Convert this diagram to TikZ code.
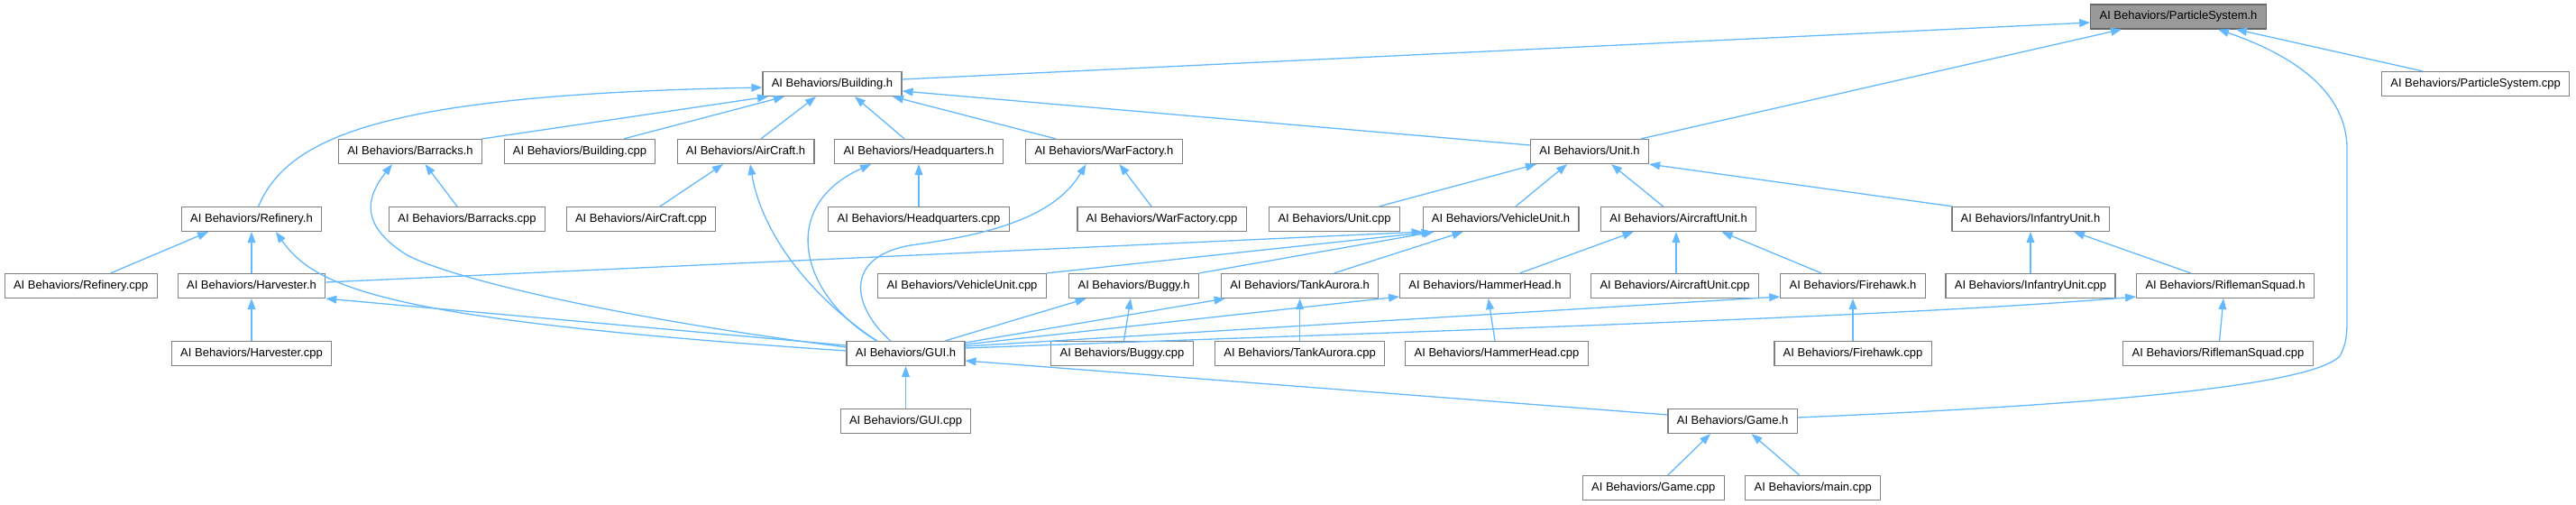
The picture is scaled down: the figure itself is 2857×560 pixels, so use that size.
\documentclass[tikz,border=0pt]{standalone}
\usepackage{fontspec}
\setmainfont{Liberation Sans}
\usetikzlibrary{arrows.meta,calc}
\definecolor{edgeblue}{HTML}{63B8FF}
\definecolor{boxgray}{HTML}{808080}
\definecolor{rootfill}{HTML}{999999}
\definecolor{rootdraw}{HTML}{666666}
\begin{document}
\begin{tikzpicture}[x=0.5pt,y=-0.5pt,
  box/.style={draw=boxgray, fill=white, line width=0.6pt, font=\fontsize{6.5}{7.8}\selectfont,
    minimum height=13.5pt, inner xsep=4.9pt, inner ysep=0pt, text height=4.7pt, text depth=1.4pt},
  root/.style={box, fill=rootfill, draw=rootdraw},
  dep/.style={draw=edgeblue, line width=0.65pt, -{Triangle[length=6pt,width=4.4pt]}}]
\useasboundingbox (0,0) rectangle (2857,560);
% row 0
\node[root] (ps) at (2416,18.5) {AI Behaviors/ParticleSystem.h};
% row 1
\node[box] (bld) at (923,93) {AI Behaviors/Building.h};
\node[box] (pscpp) at (2745.6,93) {AI Behaviors/ParticleSystem.cpp};
% row 2
\node[box] (barr) at (455,168) {AI Behaviors/Barracks.h};
\node[box] (bldcpp) at (643,168) {AI Behaviors/Building.cpp};
\node[box] (air) at (827,168) {AI Behaviors/AirCraft.h};
\node[box] (hq) at (1019,168) {AI Behaviors/Headquarters.h};
\node[box] (wf) at (1224.5,168) {AI Behaviors/WarFactory.h};
\node[box] (unit) at (1763,168) {AI Behaviors/Unit.h};
% row 3
\node[box] (ref) at (279,243) {AI Behaviors/Refinery.h};
\node[box] (barrcpp) at (518,243) {AI Behaviors/Barracks.cpp};
\node[box] (aircpp) at (711,243) {AI Behaviors/AirCraft.cpp};
\node[box] (hqcpp) at (1019,243) {AI Behaviors/Headquarters.cpp};
\node[box] (wfcpp) at (1288.5,243) {AI Behaviors/WarFactory.cpp};
\node[box] (unitcpp) at (1480,243) {AI Behaviors/Unit.cpp};
\node[box] (veh) at (1664.5,243) {AI Behaviors/VehicleUnit.h};
\node[box] (acu) at (1861.6,243) {AI Behaviors/AircraftUnit.h};
\node[box] (inf) at (2252,243) {AI Behaviors/InfantryUnit.h};
% row 4
\node[box] (refcpp) at (89.7,317) {AI Behaviors/Refinery.cpp};
\node[box] (harv) at (279,317) {AI Behaviors/Harvester.h};
\node[box] (vehcpp) at (1067,317) {AI Behaviors/VehicleUnit.cpp};
\node[box] (buggy) at (1257.6,317) {AI Behaviors/Buggy.h};
\node[box] (tank) at (1441.6,317) {AI Behaviors/TankAurora.h};
\node[box] (hammer) at (1647,317) {AI Behaviors/HammerHead.h};
\node[box] (acucpp) at (1857.6,317) {AI Behaviors/AircraftUnit.cpp};
\node[box] (fire) at (2055,317) {AI Behaviors/Firehawk.h};
\node[box] (infcpp) at (2252,317) {AI Behaviors/InfantryUnit.cpp};
\node[box] (rifle) at (2468,317) {AI Behaviors/RiflemanSquad.h};
% row 5
\node[box] (harvcpp) at (279,392) {AI Behaviors/Harvester.cpp};
\node[box] (gui) at (1004.5,392) {AI Behaviors/GUI.h};
\node[box] (buggycpp) at (1244.5,392) {AI Behaviors/Buggy.cpp};
\node[box] (tankcpp) at (1441.6,392) {AI Behaviors/TankAurora.cpp};
\node[box] (hammercpp) at (1660,392) {AI Behaviors/HammerHead.cpp};
\node[box] (firecpp) at (2055,392) {AI Behaviors/Firehawk.cpp};
\node[box] (riflecpp) at (2460,392) {AI Behaviors/RiflemanSquad.cpp};
% row 6
\node[box] (guicpp) at (1004.5,467) {AI Behaviors/GUI.cpp};
\node[box] (game) at (1921.6,467) {AI Behaviors/Game.h};
% row 7
\node[box] (gamecpp) at (1833.8,541) {AI Behaviors/Game.cpp};
\node[box] (main) at (2010.7,541) {AI Behaviors/main.cpp};

% edges into ParticleSystem.h
\draw[dep] ($(bld.east)+(0,-5)$) -- ($(ps.west)+(0,6.5)$);
\draw[dep] ($(unit.north)+(57,0)$) -- ($(ps.south)+(-63,0)$);
\draw[dep] ($(game.east)+(0,-4)$) .. controls (2300,450) and (2560,430) .. (2595,395)
  .. controls (2603,380) and (2603,370) .. (2603,350) -- (2603,165)
  .. controls (2603,100) and (2540,60) .. ($(ps.south)+(44,0)$);
\draw[dep] ($(pscpp.north)+(-58.6,0)$) -- ($(ps.south)+(64,0)$);
% edges into Building.h
\draw[dep] ($(ref.north)+(7.6,0)$) .. controls (320,150) and (430,105) .. ($(bld.west)+(0,4)$);
\draw[dep] (barr.north east) -- ($(bld.south)+(-71,0)$);
\draw[dep] ($(bldcpp.north)+(49,0)$) -- ($(bld.south)+(-53,0)$);
\draw[dep] ($(air.north)+(17,0)$) -- ($(bld.south)+(-18,0)$);
\draw[dep] ($(hq.north)+(-16,0)$) -- ($(bld.south)+(25,0)$);
\draw[dep] ($(wf.north)+(-53.5,0)$) -- ($(bld.south)+(67,0)$);
\draw[dep] ($(unit.west)+(0,-7)$) -- ($(bld.east)+(0,8)$);
% Barracks.h
\draw[dep] ($(barrcpp.north)+(-11,0)$) -- ($(barr.south)+(16.5,0)$);
\draw[dep] ($(gui.west)+(0,-7)$) .. controls (700,355) and (500,310) .. (450,282)
  .. controls (400,250) and (405,220) .. ($(barr.south)+(-20,0)$);
% AirCraft.h
\draw[dep] ($(aircpp.north)+(21,0)$) -- ($(air.south)+(-25,0)$);
\draw[dep] ($(gui.north)+(-32,0)$) .. controls (900,330) and (845,260) .. ($(air.south)+(5,0)$);
% Headquarters.h
\draw[dep] (hqcpp.north) -- (hq.south);
\draw[dep] ($(gui.north)+(-32,0)$) .. controls (890,330) and (860,230) .. ($(hq.south)+(-53,0)$);
% WarFactory.h
\draw[dep] ($(wfcpp.north)+(-11.5,0)$) -- ($(wf.south)+(17,0)$);
\draw[dep] ($(gui.north)+(-17,0)$) .. controls (945,340) and (935,285) .. (1010,272)
  .. controls (1100,260) and (1170,240) .. ($(wf.south)+(-20,0)$);
% Unit.h
\draw[dep] ($(unitcpp.north)+(49.5,0)$) -- ($(unit.south)+(-59,0)$);
\draw[dep] ($(veh.north)+(16.5,0)$) -- ($(unit.south)+(-25,0)$);
\draw[dep] ($(acu.north)+(-17,0)$) -- ($(unit.south)+(24,0)$);
\draw[dep] ($(inf.north)+(-86.5,0)$) -- (unit.south east);
% VehicleUnit.h
\draw[dep] ($(harv.east)+(0,-4)$) -- (veh.south west);
\draw[dep] (vehcpp.north east) -- ($(veh.south)+(-76,0)$);
\draw[dep] (buggy.north east) -- ($(veh.south)+(-74,0)$);
\draw[dep] ($(tank.north)+(38,0)$) -- ($(veh.south)+(-42,0)$);
% AircraftUnit.h
\draw[dep] ($(hammer.north)+(38.6,0)$) -- ($(acu.south)+(-50,0)$);
\draw[dep] ($(acucpp.north)+(1.4,0)$) -- ($(acu.south)+(-2.6,0)$);
\draw[dep] ($(fire.north)+(-35,0)$) -- ($(acu.south)+(48,0)$);
% InfantryUnit.h
\draw[dep] (infcpp.north) -- (inf.south);
\draw[dep] ($(rifle.north)+(-38.3,0)$) -- ($(inf.south)+(48,0)$);
% Refinery.h
\draw[dep] ($(refcpp.north)+(33,0)$) -- ($(ref.south)+(-48,0)$);
\draw[dep] (harv.north) -- (ref.south);
\draw[dep] ($(gui.west)+(0,-3)$) .. controls (430,355) and (350,320) .. ($(ref.south)+(27,0)$);
% Harvester.h
\draw[dep] (harvcpp.north) -- (harv.south);
\draw[dep] ($(gui.west)+(0,-9)$) -- (harv.south east);
% Buggy.h
\draw[dep] ($(gui.north)+(44,0)$) -- ($(buggy.south)+(-53,0)$);
\draw[dep] ($(buggycpp.north)+(2,0)$) -- ($(buggy.south)+(-3.6,0)$);
% TankAurora.h
\draw[dep] (tankcpp.north) -- (tank.south);
\draw[dep] ($(gui.east)+(0,-12)$) -- ($(tank.south)+(-83,0)$);
% HammerHead.h
\draw[dep] ($(hammercpp.north)+(-2,0)$) -- ($(hammer.south)+(3.7,0)$);
\draw[dep] ($(gui.east)+(0,-10)$) -- ($(hammer.west)+(0,12)$);
% Firehawk.h
\draw[dep] (firecpp.north) -- (fire.south);
\draw[dep] ($(gui.east)+(0,-8)$) -- ($(fire.west)+(0,12)$);
% RiflemanSquad.h
\draw[dep] ($(riflecpp.north)+(1.5,0)$) -- ($(rifle.south)+(-2,0)$);
\draw[dep] ($(gui.east)+(0,-6)$) .. controls (1550,368) and (2100,352) .. ($(rifle.west)+(0,12)$);
% GUI.h
\draw[dep] (guicpp.north) -- (gui.south);
\draw[dep] ($(game.west)+(0,-7)$) -- ($(gui.east)+(0,8)$);
% Game.h
\draw[dep] ($(gamecpp.north)+(16,0)$) -- ($(game.south)+(-24.6,0)$);
\draw[dep] ($(main.north)+(-15,0)$) -- ($(game.south)+(21,0)$);
\end{tikzpicture}
\end{document}
